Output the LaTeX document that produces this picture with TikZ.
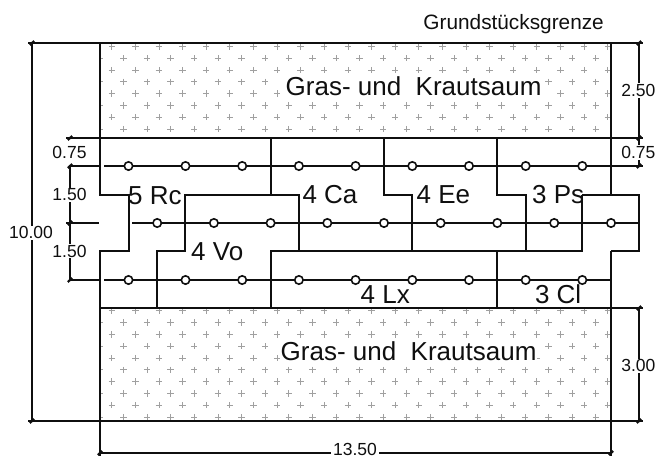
\documentclass[tikz,border=0pt]{standalone}
\usepackage{fontspec}
\setmainfont{Liberation Sans}
\definecolor{ink}{RGB}{15,15,15}
\definecolor{crossgray}{RGB}{160,160,160}
\tikzset{
  plotline/.style={line width=1.9pt,draw=ink},
  frameline/.style={line width=1.9pt,draw=ink},
  dimline/.style={line width=1.9pt,draw=ink},
  peg/.style={circle,draw=ink,fill=white,line width=1.6pt,minimum size=8.4pt,inner sep=0pt},
  crossmark/.style={draw=crossgray,line width=0.8pt},
  areatext/.style={font=\fontsize{26}{26}\selectfont,text=ink,inner xsep=1pt,inner ysep=2pt,anchor=base west},
  plottext/.style={font=\fontsize{26}{26}\selectfont,text=ink,inner sep=0pt,anchor=base west},
  dimtext/.style={font=\fontsize{17.5}{17.5}\selectfont,text=ink,fill=white,inner sep=1pt},
  tickhead/.style={line width=2.2pt,draw=ink}
}
\newcommand{\crossrows}[3]{%
  \foreach \r in {0,...,#2}{%
    \pgfmathsetmacro{\yy}{#1+11.8*\r}%
    \pgfmathsetmacro{\xo}{mod(\r+#3,2)==0 ? 111.7 : 99.8}%
    \foreach \c in {0,...,22}{%
      \pgfmathsetmacro{\xx}{\xo+23.62*\c}%
      \draw[crossmark] (\xx-3.2,\yy) -- (\xx+3.2,\yy) (\xx,\yy-3.2) -- (\xx,\yy+3.2);
    }%
  }%
}
\begin{document}
\begin{tikzpicture}[x=1pt,y=-1pt]
\useasboundingbox (0,0) rectangle (659,459);
\begin{scope}
  \clip (100,43) rectangle (611,138);
  \crossrows{46.4}{7}{0}
\end{scope}
\begin{scope}
  \clip (100,308) rectangle (611,421);
  \crossrows{310.8}{9}{0}
\end{scope}
\node[areatext,fill=white] (areaA) at (284.5,95) {Gras- und\ \ Krautsaum};
\node[areatext,fill=white] (areaB) at (279.5,360) {Gras- und\ \ Krautsaum};

% dimension lines
\draw[dimline] (32,43) -- (32,421);
\draw[dimline] (70,166) -- (70,280);
\draw[dimline] (639,43) -- (639,166);
\draw[dimline] (639,308) -- (639,421);
\draw[frameline] (28,43) -- (643,43);
\draw[frameline] (28,421) -- (643,421);
\draw[frameline] (66,138) -- (643,138);
\draw[frameline] (100,308) -- (643,308);
\draw[frameline] (100,453) -- (611,453);
% tick heads
\foreach \x/\y in {32/43,32/421,70/138,70/166,70/223,70/280,639/43,639/138,639/166,639/308,639/421,100/453,611/453}
  \draw[tickhead] (\x-2.2,\y+2) -- (\x+2.2,\y-2);

% boundary
\draw[plotline] (100,43) -- (100,195) -- (129,195) -- (129,251) -- (100,251) -- (100,456);
\draw[plotline] (611,43) -- (611,195);
\draw[plotline] (611,251) -- (611,456);
\draw[plotline] (582,195) -- (639,195) -- (639,251) -- (611,251);

% rows
\draw[plotline] (70,166) -- (99,166) (104,166) -- (643,166);
\draw[plotline] (66,223) -- (99,223) (132,223) -- (639,223);
\draw[plotline] (70,280) -- (99,280) (104,280) -- (611,280);

% plot separators
\draw[plotline] (271,138) -- (271,195);
\draw[plotline] (299,251) -- (299,195) -- (185,195) -- (185,251) -- (157,251) -- (157,308);
\draw[plotline] (384,138) -- (384,195) -- (412,195) -- (412,251);
\draw[plotline] (497,138) -- (497,195) -- (526,195) -- (526,251);
\draw[plotline] (582,195) -- (582,251) -- (271,251) -- (271,308);
\draw[plotline] (497,251) -- (497,308);

% pegs
\foreach[count=\i] \x in {128.5,185.5,242.2,298.9,355.6,412.3,469,525.7,582.3}{
  \node[peg] (pa\i) at (\x,166) {};
  \node[peg] (pc\i) at (\x,280) {};
}
\foreach[count=\i] \x in {157.2,213.9,270.6,327.3,384,440.6,497.3,554.2,611}{
  \node[peg] (pb\i) at (\x,223) {};
}

% plot labels
\node[plottext] (rc) at (128,204) {5 Rc};
\node[plottext] (ca) at (302.3,203.5) {4 Ca};
\node[plottext] (ee) at (416.5,203.5) {4 Ee};
\node[plottext] (ps) at (532,203.5) {3 Ps};
\node[plottext] (vo) at (191,260) {4 Vo};
\node[plottext] (lx) at (360.5,303.3) {4 Lx};
\node[plottext] (cl) at (534.8,303) {3 Cl};

% dimension texts
\node[font=\fontsize{20.8}{20.8}\selectfont,text=ink,anchor=base east,inner sep=0pt] (grenze) at (604,29) {Grundstücksgrenze};
\node[dimtext] (d1) at (31,232.7) {10.00};
\node[dimtext] (d2) at (69.5,152) {0.75};
\node[dimtext] (d3) at (69.5,194.7) {1.50};
\node[dimtext] (d4) at (69.5,251) {1.50};
\node[dimtext] (d5) at (638.3,90.3) {2.50};
\node[dimtext] (d6) at (638.3,152.3) {0.75};
\node[dimtext] (d7) at (638.3,365.7) {3.00};
\node[dimtext,inner ysep=0.2pt,inner xsep=2pt] (d8) at (355,449.5) {13.50};
\end{tikzpicture}
\end{document}
